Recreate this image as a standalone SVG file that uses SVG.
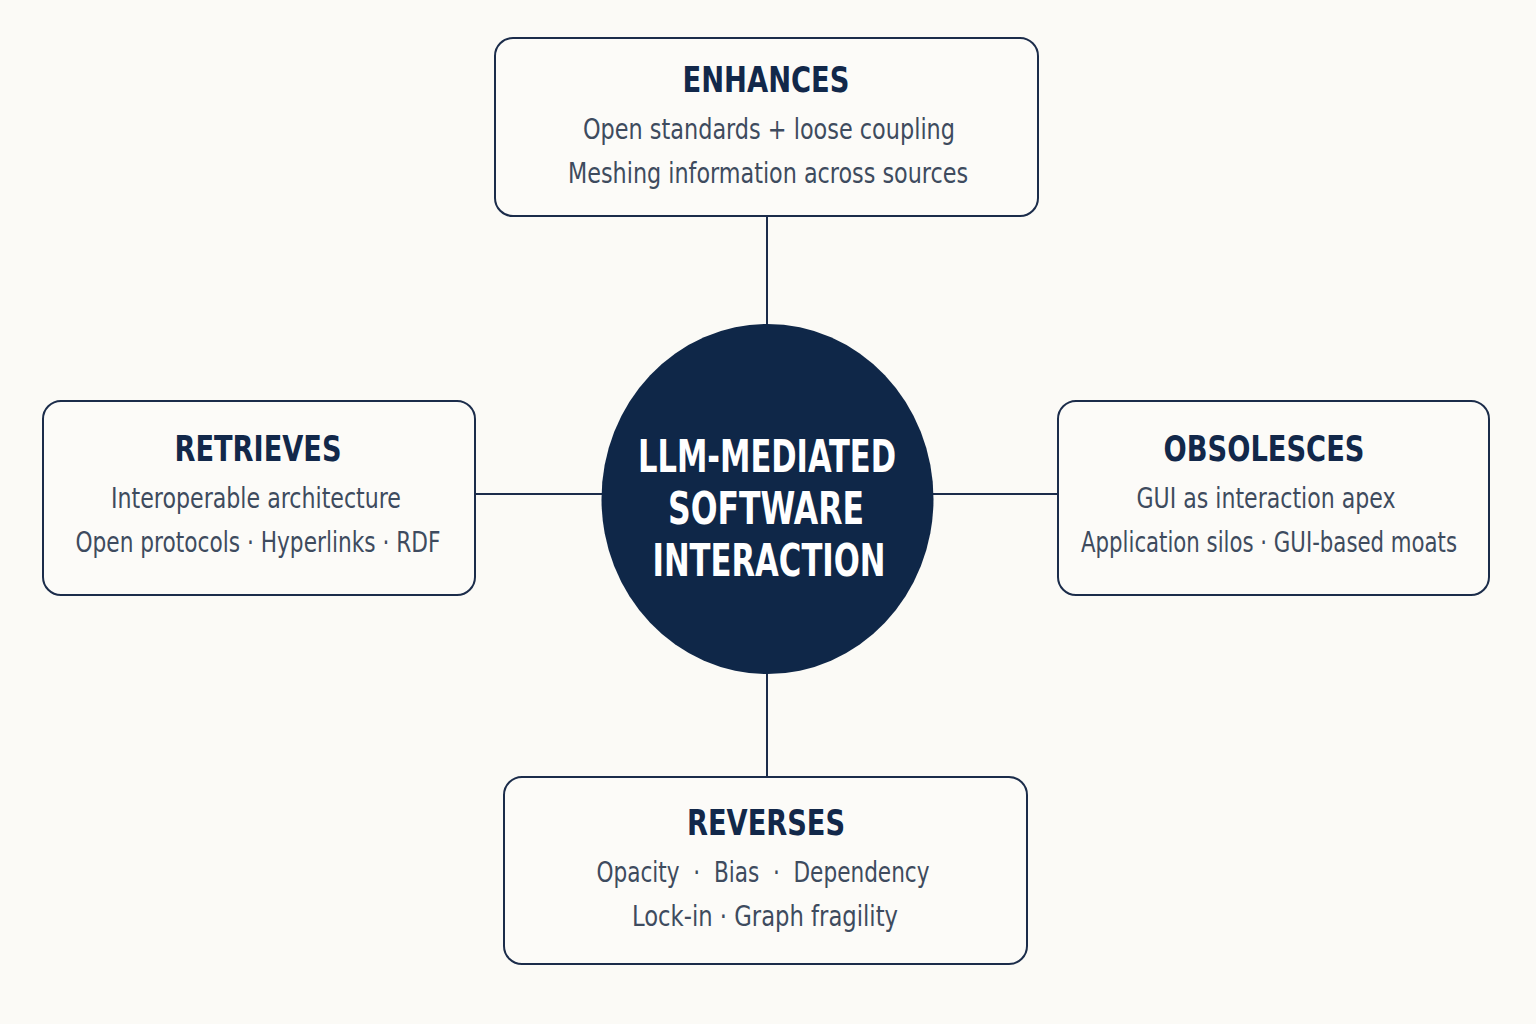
<svg xmlns="http://www.w3.org/2000/svg" width="1536" height="1024" viewBox="0 0 1536 1024">
<style>
.box{fill:#fcfbf8;stroke:#1b2c4a;stroke-width:2}
.conn line{stroke:#1b2c4a;stroke-width:2}
.title{font-family:"Liberation Sans Narrow","DejaVu Sans Condensed","Roboto","Liberation Sans",sans-serif;font-weight:bold;font-size:36px;fill:#12284a;text-anchor:middle}
.body{font-family:"Liberation Sans Narrow","DejaVu Sans Condensed","Roboto","Liberation Sans",sans-serif;font-size:29px;fill:#3e4b5e;text-anchor:middle}
.center{font-family:"Liberation Sans Narrow","DejaVu Sans Condensed","Roboto","Liberation Sans",sans-serif;font-weight:bold;font-size:44px;fill:#ffffff;text-anchor:middle}
</style>
<rect width="1536" height="1024" fill="#fbfaf6"/>
<g id="connectors" class="conn">
<line x1="767" y1="216" x2="767" y2="326"/>
<line x1="767" y1="672" x2="767" y2="777"/>
<line x1="475" y1="494" x2="604" y2="494"/>
<line x1="931" y1="494" x2="1058" y2="494"/>
</g>
<g id="center">
<ellipse cx="767.5" cy="499" rx="166" ry="175" fill="#0f2748"/>
<text class="center" x="767" y="472" textLength="258" lengthAdjust="spacingAndGlyphs">LLM-MEDIATED</text>
<text class="center" x="766" y="524" textLength="196" lengthAdjust="spacingAndGlyphs">SOFTWARE</text>
<text class="center" x="769" y="576" textLength="233" lengthAdjust="spacingAndGlyphs">INTERACTION</text>
</g>
<g id="enhances">
<rect class="box" x="495" y="38" width="543" height="178" rx="18"/>
<text class="title" x="766" y="92" textLength="167" lengthAdjust="spacingAndGlyphs">ENHANCES</text>
<text class="body" x="769" y="139" textLength="372" lengthAdjust="spacingAndGlyphs">Open standards + loose coupling</text>
<text class="body" x="768" y="183" textLength="400" lengthAdjust="spacingAndGlyphs">Meshing information across sources</text>
</g>
<g id="retrieves">
<rect class="box" x="43" y="401" width="432" height="194" rx="18"/>
<text class="title" x="258" y="461" textLength="167" lengthAdjust="spacingAndGlyphs">RETRIEVES</text>
<text class="body" x="256" y="508" textLength="290" lengthAdjust="spacingAndGlyphs">Interoperable architecture</text>
<text class="body" x="258" y="552" textLength="365" lengthAdjust="spacingAndGlyphs">Open protocols · Hyperlinks · RDF</text>
</g>
<g id="obsolesces">
<rect class="box" x="1058" y="401" width="431" height="194" rx="18"/>
<text class="title" x="1264" y="461" textLength="201" lengthAdjust="spacingAndGlyphs">OBSOLESCES</text>
<text class="body" x="1266" y="508" textLength="259" lengthAdjust="spacingAndGlyphs">GUI as interaction apex</text>
<text class="body" x="1269" y="552" font-size="28" textLength="376" lengthAdjust="spacingAndGlyphs">Application silos · GUI-based moats</text>
</g>
<g id="reverses">
<rect class="box" x="504" y="777" width="523" height="187" rx="18"/>
<text class="title" x="766" y="835" textLength="158" lengthAdjust="spacingAndGlyphs">REVERSES</text>
<text class="body" x="763" y="882" textLength="333" lengthAdjust="spacingAndGlyphs">Opacity &#160;· &#160;Bias &#160;· &#160;Dependency</text>
<text class="body" x="765" y="926" textLength="266" lengthAdjust="spacingAndGlyphs">Lock-in · Graph fragility</text>
</g>
</svg>
